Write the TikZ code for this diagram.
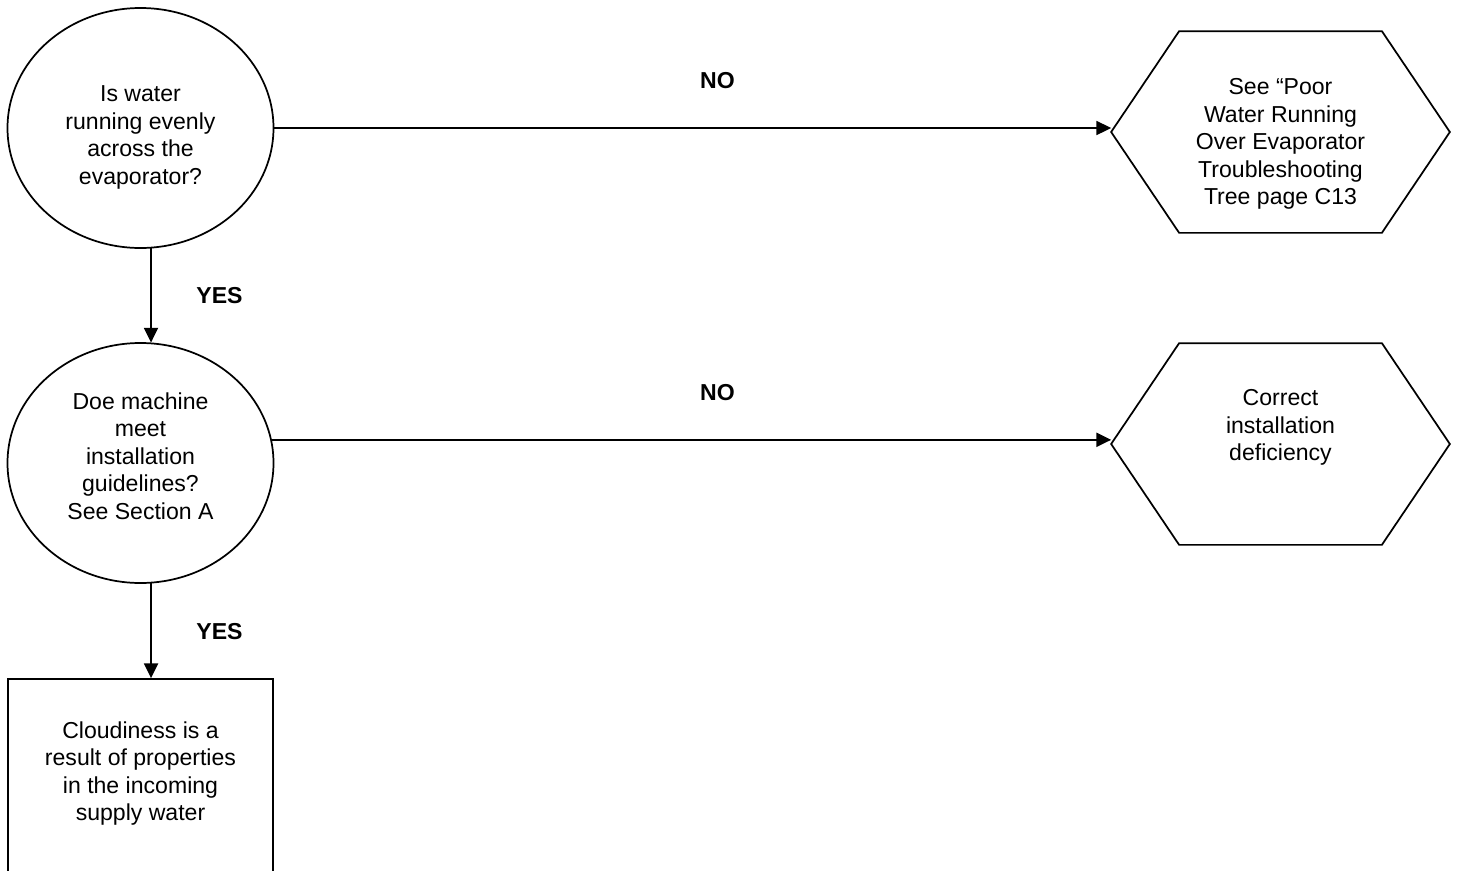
\documentclass[tikz,border=0pt]{standalone}
\usepackage{fontspec}
\setmainfont{Liberation Sans}
\usepackage{tikz}
\usetikzlibrary{positioning,arrows.meta,calc,shapes.geometric}

\begin{document}
\begin{tikzpicture}[x=0.75pt, y=-0.75pt, line width=1.3pt,
  txt/.style={align=center, font=\fontsize{17.3}{20.6}\selectfont},
  lbl/.style={font=\fontsize{17.3}{20.6}\selectfont\bfseries},
  fleche/.style={-{Triangle[length=11pt, width=10.5pt]}}]
  \useasboundingbox (0,0) rectangle (1457,871);

  % Questions (ellipses)
  \node[ellipse, draw, minimum width=199.5pt, minimum height=180pt, inner sep=0pt] (q1) at (140.5,128) {};
  \node[txt] (q1txt) at (140.5,137.5) {Is water\\running evenly\\across the\\evaporator?};
  \node[ellipse, draw, minimum width=199.5pt, minimum height=180pt, inner sep=0pt] (q2) at (140.5,463) {};
  \node[txt] (q2txt) at (140.5,456) {Doe machine\\meet\\installation\\guidelines?\\See Section A};

  % Resultat (boite coupee en bas)
  \node[draw, minimum width=198.75pt, minimum height=180pt, inner sep=0pt] (res) at (140.5,799) {};
  \node[txt] (restxt) at (140.5,773.5) {Cloudiness is a\\result of properties\\in the incoming\\supply water};

  % Actions (hexagones)
  \node[minimum width=252.75pt, minimum height=150pt, inner sep=0pt] (h1) at (1280.5,132) {};
  \node[txt] (h1txt) at (1280.5,144) {See “Poor\\Water Running\\Over Evaporator\\Troubleshooting\\Tree page C13};
  \node[minimum width=252.75pt, minimum height=150pt, inner sep=0pt] (h2) at (1280.5,444) {};
  \node[txt] (h2txt) at (1280.5,427.5) {Correct\\installation\\deficiency};
  \foreach \h in {h1, h2} {
    \draw (\h.west) -- ([xshift=51pt]\h.north west) -- ([xshift=-51pt]\h.north east)
      -- (\h.east) -- ([xshift=-51pt]\h.south east) -- ([xshift=51pt]\h.south west) -- cycle;
  }

  % Connexions
  \draw[fleche] (q1.-85) -- (q2.85);
  \draw[fleche] (q2.-85) -- (q2.-85 |- res.north);
  \draw[fleche] (q1.east) -- (q1.east -| h1.west);
  \draw[fleche] (q2.10) -- (q2.10 -| h2.west);

  % Etiquettes
  \node[lbl] (non1) at (717.5,81) {NO};
  \node[lbl] (oui1) at (219.5,296) {YES};
  \node[lbl] (non2) at (717.5,393) {NO};
  \node[lbl] (oui2) at (219.5,632) {YES};
\end{tikzpicture}
\end{document}
